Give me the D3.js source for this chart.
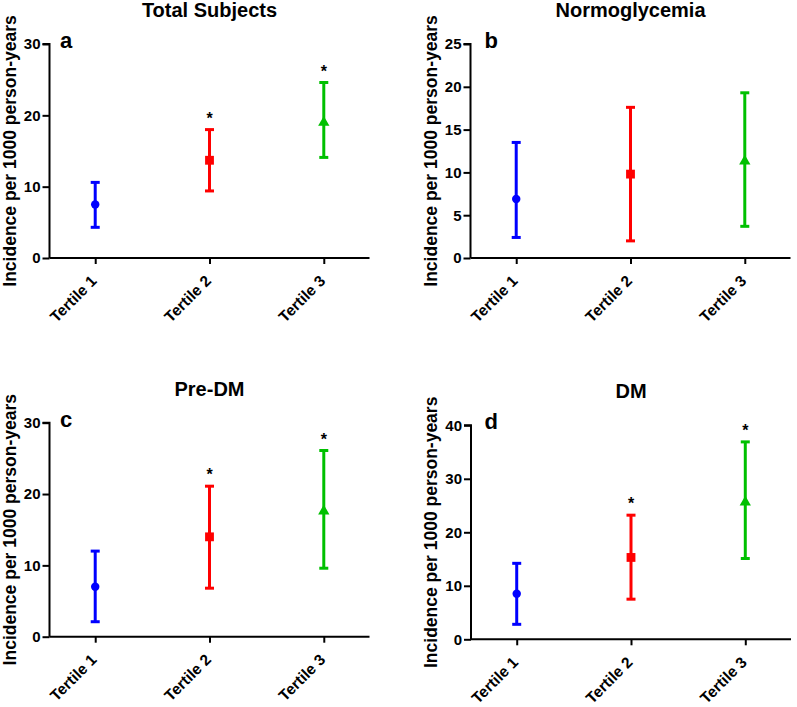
<!DOCTYPE html>
<html>
<head>
<meta charset="utf-8">
<script src="https://cdn.jsdelivr.net/npm/d3@7"></script>
<style>
  body { margin: 0; background: #fff; }
  svg text { font-family: "Liberation Sans", Arial, sans-serif; font-weight: bold; }
</style>
</head>
<body>
<div id="chart"></div>
<script>
// Data
const categories = ["Tertile 1", "Tertile 2", "Tertile 3"];
const titles = ["Total Subjects", "Normoglycemia", "Pre-DM", "DM"];
const letters = ["a", "b", "c", "d"];
const yMax = [30, 25, 30, 40];
const yStep = [10, 5, 10, 10];

const means = [
  [7.5, 13.7, 19.0],
  [6.9, 9.8, 11.3],
  [7.0, 14.0, 17.6],
  [8.5, 15.3, 25.6]
];
const lower = [
  [4.3, 9.4, 14.1],
  [2.4, 2.0, 3.7],
  [2.1, 6.8, 9.6],
  [2.8, 7.5, 15.1]
];
const upper = [
  [10.6, 18.0, 24.6],
  [13.5, 17.6, 19.3],
  [12.0, 21.1, 26.1],
  [14.2, 23.2, 36.9]
];
const significant = [
  [false, true, true],
  [false, false, false],
  [false, true, true],
  [false, true, true]
];

// Layout of the four panels (axis origin = top-left of plotting area)
const layout = [
  { x: 49.5, y: 44, letterDx: 10.5 },
  { x: 470.5, y: 44, letterDx: 14 },
  { x: 49.5, y: 422.7, letterDx: 10.5 },
  { x: 471, y: 425.3, letterDx: 13.5 }
];
const plotW = 320, plotH = 214;
const colors = ["#0000ff", "#ff0000", "#00c000"];
const shapes = [d3.symbolCircle, d3.symbolSquare, d3.symbolTriangle];
const shapeSizes = [56, 78, 55];

const svg = d3.select("#chart").append("svg")
  .attr("width", 797)
  .attr("height", 707);

titles.forEach((title, p) => {
  const g = svg.append("g")
    .attr("transform", `translate(${layout[p].x},${layout[p].y})`);

  const x = d3.scalePoint()
    .domain(categories)
    .range([0, plotW])
    .padding(0.4);

  const y = d3.scaleLinear()
    .domain([0, yMax[p]])
    .range([plotH, 0]);

  // Y axis
  const yAxis = g.append("g")
    .call(d3.axisLeft(y).tickValues(d3.range(0, yMax[p] + 0.01, yStep[p])).tickSize(7).tickPadding(2));
  yAxis.select(".domain").attr("stroke-width", 2).attr("d", `M-7,0H0V${plotH}`);
  yAxis.selectAll(".tick line").attr("stroke-width", 2);
  yAxis.selectAll(".tick text").attr("font-size", 15).attr("fill", "#000");

  // X axis
  const xAxis = g.append("g")
    .attr("transform", `translate(0,${plotH})`)
    .call(d3.axisBottom(x).tickSize(6));
  xAxis.select(".domain").attr("stroke-width", 2).attr("d", `M0,0H${plotW}`);
  xAxis.selectAll(".tick line").attr("stroke-width", 2);
  xAxis.selectAll(".tick text")
    .attr("font-size", 15.5)
    .attr("fill", "#000")
    .attr("text-anchor", "end")
    .attr("dy", null)
    .attr("y", null)
    .attr("transform", "translate(2,24) rotate(-45)");

  // Axis label
  g.append("text")
    .attr("transform", `translate(-34,${plotH / 2}) rotate(-90)`)
    .attr("text-anchor", "middle")
    .attr("font-size", 17.5)
    .text("Incidence per 1000 person-years");

  // Title and panel letter
  g.append("text")
    .attr("x", plotW / 2)
    .attr("y", -27)
    .attr("text-anchor", "middle")
    .attr("font-size", 20)
    .text(title);

  g.append("text")
    .attr("x", layout[p].letterDx)
    .attr("y", 4)
    .attr("font-size", 22)
    .text(letters[p]);

  // Error bars
  const pts = g.selectAll(".pt")
    .data(categories)
    .enter()
    .append("g")
    .attr("class", "pt");

  pts.append("line")
    .attr("x1", d => x(d))
    .attr("x2", d => x(d))
    .attr("y1", (_, i) => y(lower[p][i]))
    .attr("y2", (_, i) => y(upper[p][i]))
    .attr("stroke", (_, i) => colors[i])
    .attr("stroke-width", 3);

  [lower, upper].forEach(arr => {
    pts.append("line")
      .attr("x1", d => x(d) - 4.5)
      .attr("x2", d => x(d) + 4.5)
      .attr("y1", (_, i) => y(arr[p][i]))
      .attr("y2", (_, i) => y(arr[p][i]))
      .attr("stroke", (_, i) => colors[i])
      .attr("stroke-width", 3);
  });

  pts.append("path")
    .attr("transform", (d, i) => `translate(${x(d)},${y(means[p][i])})`)
    .attr("d", (_, i) => d3.symbol().type(shapes[i]).size(shapeSizes[i])())
    .attr("fill", (_, i) => colors[i]);

  // Significance stars
  pts.filter((_, i) => significant[p][i])
    .append("text")
    .attr("x", d => x(d))
    .attr("y", d => y(upper[p][categories.indexOf(d)]) - 6)
    .attr("text-anchor", "middle")
    .attr("font-size", 16)
    .attr("font-weight", "normal")
    .text("*");
});
</script>
</body>
</html>
